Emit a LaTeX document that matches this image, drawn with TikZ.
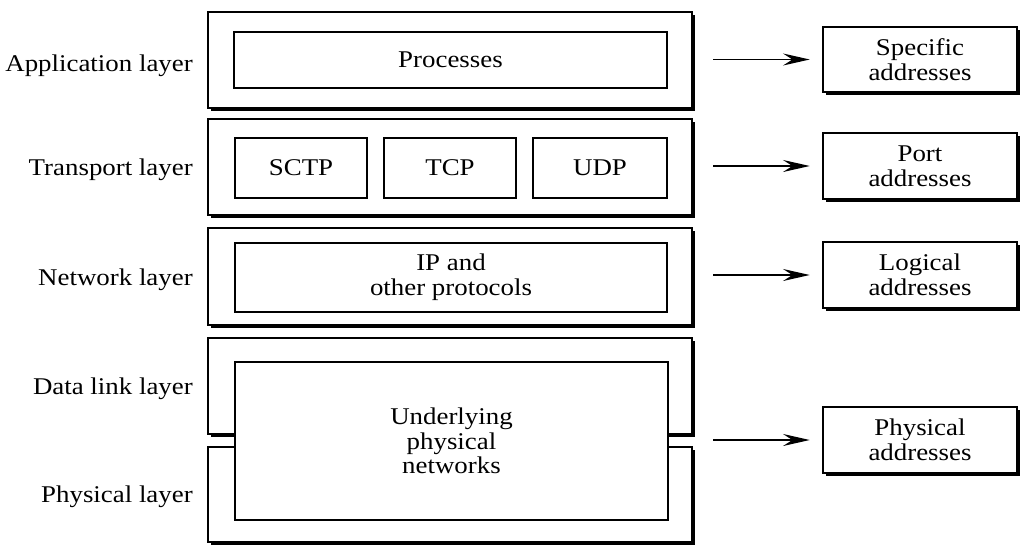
\documentclass[tikz,border=0pt]{standalone}
\usepackage{fontspec}
\setmainfont[FakeStretch=1.12]{Liberation Serif}
\usetikzlibrary{fit,shadows,arrows.meta}
\begin{document}
\begin{tikzpicture}[x=0.75pt,y=-0.75pt,
  txt/.style={font=\fontsize{18}{18.5}\selectfont, align=center, inner sep=0pt},
  layerbox/.style={draw, line width=0.9pt, fill=white, inner sep=0pt,
    drop shadow={shadow xshift=2.6pt, shadow yshift=-2.6pt, fill=black, opacity=1}},
  partbox/.style={draw, line width=0.8pt, fill=white, inner sep=0pt},
  lbl/.style={txt, anchor=base east},
  arr/.style={line width=1.1pt, shorten <=15.5pt, shorten >=9.5pt,
    arrows={-Stealth[length=20pt, width=9pt, inset=7pt]}}]
\useasboundingbox (0,0) rectangle (1021,546);

% layer stack
\node[layerbox, fit={(208,12)(692,108)}] (app) {};
\node[layerbox, fit={(208,119)(692,215)}] (tra) {};
\node[layerbox, fit={(208,228)(692,325)}] (net) {};
\node[layerbox, fit={(208,338)(692,434)}] (dl) {};
\node[layerbox, fit={(208,447)(692,542)}] (phy) {};

% protocols inside the layers
\node[partbox, fit={(234,32)(667,88)}, label={[txt]center:Processes}] (proc) {};
\node[partbox, fit={(235,138)(367,198)}, label={[txt]center:SCTP}] (sctp) {};
\node[partbox, fit={(384,138)(516,198)}, label={[txt]center:TCP}] (tcp) {};
\node[partbox, fit={(533,138)(667,198)}, label={[txt]center:UDP}] (udp) {};
\node[partbox, fit={(235,243)(667,312)}, label={[txt]center:IP and\\other protocols}] (ip) {};
\node[partbox, fit={(235,362)(668,520)}, label={[txt]center:Underlying\\physical\\networks}] (under) {};

% layer names
\node[lbl] (lapp) at (193,71) {Application layer};
\node[lbl] (ltra) at (193,175) {Transport layer};
\node[lbl] (lnet) at (193,285) {Network layer};
\node[lbl] (ldl) at (193,394) {Data link layer};
\node[lbl] (lphy) at (193,502) {Physical layer};

% address kinds
\node[layerbox, fit={(823,27)(1017,92)}, label={[txt]center:Specific\\addresses}] (aspec) {};
\node[layerbox, fit={(823,133)(1017,199)}, label={[txt]center:Port\\addresses}] (aport) {};
\node[layerbox, fit={(823,242)(1017,308)}, label={[txt]center:Logical\\addresses}] (alog) {};
\node[layerbox, fit={(823,407)(1017,473)}, label={[txt]center:Physical\\addresses}] (aphy) {};

% layer -> address arrows
\draw[arr] (app.east |- aspec.west) -- (aspec.west);
\draw[arr] (tra.east |- aport.west) -- (aport.west);
\draw[arr] (net.east |- alog.west) -- (alog.west);
\draw[arr] (dl.east |- aphy.west) -- (aphy.west);
\end{tikzpicture}
\end{document}
